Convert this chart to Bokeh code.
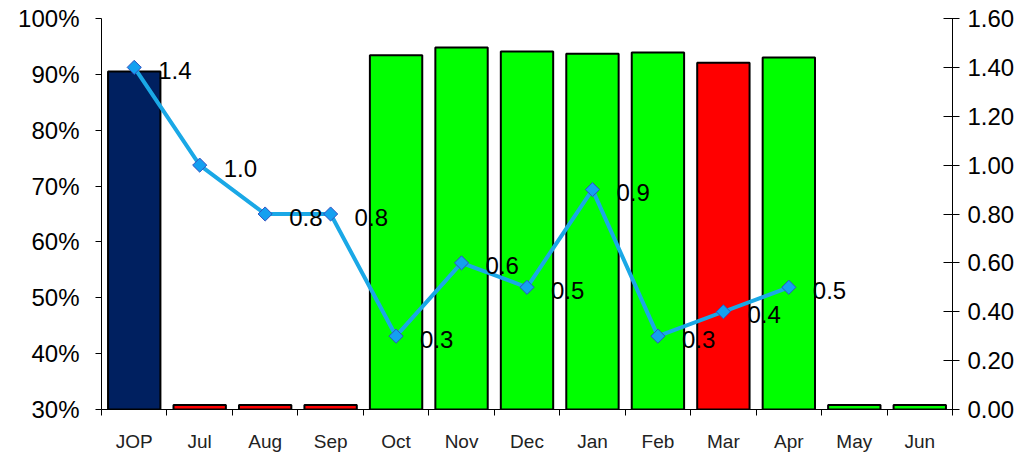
import numpy as np
from bokeh.plotting import figure
from bokeh.models import (Range1d, LinearAxis, FixedTicker, NumeralTickFormatter,
                          ColumnDataSource)
from bokeh.core.properties import value
from bokeh.embed import file_html
from bokeh.resources import INLINE

# ---- data ----
categories = ["JOP", "Jul", "Aug", "Sep", "Oct", "Nov", "Dec", "Jan", "Feb",
              "Mar", "Apr", "May", "Jun"]
bar_values = [0.905, 0.0, 0.0, 0.0, 0.934, 0.948, 0.941, 0.937, 0.939,
              0.921, 0.930, 0.0, 0.0]
bar_colors = ["#002060", "#ff0000", "#ff0000", "#ff0000", "#00ff00", "#00ff00",
              "#00ff00", "#00ff00", "#00ff00", "#ff0000", "#00ff00", "#00ff00",
              "#00ff00"]
line_categories = ["JOP", "Jul", "Aug", "Sep", "Oct", "Nov", "Dec", "Jan",
                   "Feb", "Mar", "Apr"]
line_values = [1.4, 1.0, 0.8, 0.8, 0.3, 0.6, 0.5, 0.9, 0.3, 0.4, 0.5]
left_ticks = [0.3, 0.4, 0.5, 0.6, 0.7, 0.8, 0.9, 1.0]
right_ticks = [0.0, 0.2, 0.4, 0.6, 0.8, 1.0, 1.2, 1.4, 1.6]

FONT = "Liberation Sans"
n = len(categories)
centers = np.arange(n) + 0.5
ymin, ymax = 0.3, 1.0

p = figure(width=1031, height=457, output_backend="svg", toolbar_location=None,
           x_range=Range1d(0, n), y_range=Range1d(ymin, ymax),
           min_border_left=101, min_border_right=79, min_border_top=18,
           min_border_bottom=48, x_axis_location=None, y_axis_location=None)
p.outline_line_color = None
p.xgrid.visible = False
p.ygrid.visible = False
p.background_fill_color = "white"
p.border_fill_color = "white"
p.extra_y_ranges = {"right": Range1d(0, 1.6)}

# bars (zero values sit on the axis floor as a thin strip)
tops = np.maximum(np.array(bar_values), ymin + 0.008)
bsrc = ColumnDataSource(dict(x=centers, top=tops, color=bar_colors))
p.vbar(x="x", top="top", bottom=ymin, width=0.8, source=bsrc,
       fill_color="color", line_color="black", line_width=2)

# line series
idx = [categories.index(c) for c in line_categories]
lx = centers[idx]
lsrc = ColumnDataSource(dict(x=lx, y=line_values,
                             label=[f"{v:.1f}" for v in line_values]))
p.line("x", "y", source=lsrc, y_range_name="right", line_color="#1aa8e6",
       line_width=4)
p.scatter("x", "y", source=lsrc, y_range_name="right", marker="square",
          angle=np.pi / 4, size=10, fill_color="#14a0f0", line_color="#3050c0",
          line_width=1)
p.text("x", "y", text="label", source=lsrc, y_range_name="right",
       x_offset=24, y_offset=3, text_baseline="middle", text_align="left",
       text_font=value(FONT), text_font_size="24px", text_color="black")

# left axis
yl = LinearAxis(ticker=FixedTicker(ticks=left_ticks),
                formatter=NumeralTickFormatter(format="0%"))
yl.major_tick_out = 6
yl.major_tick_in = 0
yl.minor_tick_out = 0
yl.minor_tick_in = 0
yl.major_label_standoff = 16
yl.major_label_text_font = FONT
yl.major_label_text_font_size = "24px"
yl.major_label_text_color = "black"
yl.axis_line_color = "black"
p.add_layout(yl, "left")

# right axis
yr = LinearAxis(y_range_name="right", ticker=FixedTicker(ticks=right_ticks),
                formatter=NumeralTickFormatter(format="0.00"))
yr.major_tick_out = 7
yr.major_tick_in = 9
yr.minor_tick_out = 0
yr.minor_tick_in = 0
yr.major_label_standoff = 8
yr.major_label_text_font = FONT
yr.major_label_text_font_size = "24px"
yr.major_label_text_color = "black"
yr.axis_line_color = "black"
p.add_layout(yr, "right")

# bottom axis: labels at centers, ticks at category boundaries
xb = LinearAxis(ticker=FixedTicker(ticks=list(centers),
                                   minor_ticks=list(np.arange(n + 1))))
xb.major_label_overrides = {float(c): cat for c, cat in zip(centers, categories)}
xb.major_tick_out = 0
xb.major_tick_in = 0
xb.minor_tick_out = 6
xb.minor_tick_in = 0
xb.minor_tick_line_color = "black"
xb.major_label_standoff = 15
xb.major_label_text_font = FONT
xb.major_label_text_font_size = "19px"
xb.major_label_text_color = "#222222"
xb.axis_line_color = "black"
p.add_layout(xb, "below")

open("out.html", "w").write(file_html(p, INLINE))
